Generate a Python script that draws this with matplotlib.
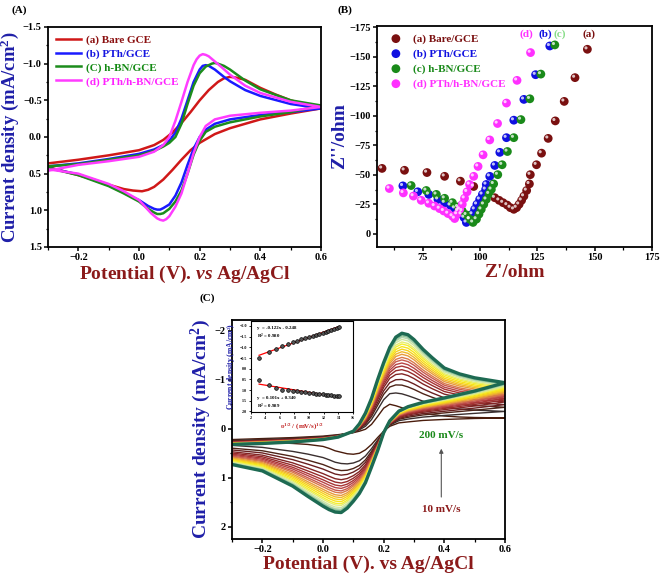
import matplotlib.pyplot as plt
import numpy as np
from matplotlib.transforms import offset_copy
from matplotlib.ticker import AutoMinorLocator

plt.rcParams['font.family'] = 'Liberation Serif'
plt.rcParams['font.weight'] = 'bold'
plt.rcParams['axes.labelweight'] = 'bold'
plt.rcParams['mathtext.fontset'] = 'custom'
plt.rcParams['mathtext.rm'] = 'Liberation Serif:bold'
plt.rcParams['mathtext.bf'] = 'Liberation Serif:bold'
plt.rcParams['mathtext.it'] = 'Liberation Serif:italic:bold'
plt.rcParams['axes.linewidth'] = 1.3

# ---------------- (A) CV of the electrodes ----------------
a_labels = ['(a) Bare GCE', '(b) PTh/GCE', '(C) h-BN/GCE', '(d) PTh/h-BN/GCE']
a_colors = ['#d01818', '#1a1aff', '#1c8c1c', '#ff3cff']
a_text_colors = ['#8b1010', '#1515e0', '#138a13', '#ff22ff']

# forward (upper) and reverse (lower) branches, potential in V, current in mA/cm2
a_v_fwd = [
    [-0.3, -0.2, -0.1, 0.0, 0.05, 0.08, 0.11, 0.14, 0.17, 0.2, 0.23, 0.26, 0.28, 0.3, 0.32, 0.35,
     0.4, 0.45, 0.5, 0.55, 0.6],
    [-0.3, -0.2, -0.1, 0.0, 0.05, 0.08, 0.1, 0.12, 0.14, 0.16, 0.18, 0.2, 0.21, 0.22, 0.23, 0.25,
     0.28, 0.3, 0.35, 0.4, 0.5, 0.6],
    [-0.3, -0.2, -0.1, 0.0, 0.05, 0.08, 0.1, 0.12, 0.14, 0.16, 0.18, 0.2, 0.22, 0.24, 0.25, 0.26,
     0.28, 0.3, 0.32, 0.35, 0.4, 0.5, 0.6],
    [-0.3, -0.2, -0.1, 0.0, 0.05, 0.08, 0.1, 0.12, 0.14, 0.16, 0.18, 0.19, 0.2, 0.21, 0.22, 0.23,
     0.25, 0.27, 0.3, 0.35, 0.4, 0.5, 0.6],
]
a_j_fwd = [
    [0.36, 0.31, 0.25, 0.18, 0.11, 0.04, -0.06, -0.19, -0.34, -0.50, -0.64, -0.75, -0.80, -0.82,
     -0.81, -0.78, -0.67, -0.58, -0.50, -0.44, -0.39],
    [0.40, 0.36, 0.30, 0.23, 0.17, 0.11, 0.05, -0.06, -0.25, -0.50, -0.75, -0.92, -0.97, -0.98,
     -0.97, -0.92, -0.82, -0.76, -0.64, -0.56, -0.45, -0.39],
    [0.40, 0.37, 0.31, 0.25, 0.19, 0.13, 0.08, 0.00, -0.18, -0.45, -0.70, -0.87, -0.96, -1.00,
     -1.01, -1.00, -0.97, -0.92, -0.86, -0.77, -0.65, -0.50, -0.43],
    [0.46, 0.38, 0.33, 0.27, 0.20, 0.11, 0.00, -0.22, -0.48, -0.75, -0.98, -1.06, -1.11, -1.13,
     -1.12, -1.10, -1.03, -0.96, -0.85, -0.70, -0.60, -0.48, -0.41],
]
a_v_rev = [
    [0.6, 0.5, 0.4, 0.3, 0.25, 0.2, 0.17, 0.14, 0.11, 0.08, 0.05, 0.03, 0.01, -0.02, -0.05, -0.1,
     -0.15, -0.2, -0.3],
    [0.6, 0.5, 0.4, 0.3, 0.25, 0.22, 0.2, 0.18, 0.16, 0.14, 0.12, 0.1, 0.08, 0.07, 0.06, 0.05, 0.03,
     0.0, -0.05, -0.1, -0.2, -0.3],
    [0.6, 0.5, 0.4, 0.3, 0.25, 0.22, 0.2, 0.18, 0.16, 0.14, 0.12, 0.1, 0.08, 0.07, 0.06, 0.05, 0.03,
     0.0, -0.05, -0.1, -0.2, -0.3],
    [0.6, 0.5, 0.4, 0.3, 0.25, 0.22, 0.2, 0.18, 0.16, 0.14, 0.12, 0.1, 0.09, 0.08, 0.07, 0.06, 0.04,
     0.02, 0.0, -0.05, -0.1, -0.2, -0.3],
]
a_j_rev = [
    [-0.39, -0.32, -0.24, -0.12, -0.04, 0.08, 0.18, 0.31, 0.45, 0.58, 0.68, 0.72, 0.74, 0.73, 0.71,
     0.65, 0.58, 0.52, 0.41],
    [-0.39, -0.34, -0.30, -0.24, -0.18, -0.10, 0.00, 0.16, 0.38, 0.62, 0.80, 0.92, 0.97, 0.99, 0.99,
     0.98, 0.94, 0.86, 0.76, 0.66, 0.51, 0.42],
    [-0.43, -0.34, -0.28, -0.20, -0.14, -0.07, 0.05, 0.24, 0.50, 0.73, 0.88, 0.98, 1.04, 1.05, 1.05,
     1.03, 0.98, 0.88, 0.77, 0.67, 0.52, 0.42],
    [-0.41, -0.36, -0.33, -0.29, -0.24, -0.15, 0.00, 0.22, 0.50, 0.77, 0.95, 1.08, 1.12, 1.14, 1.13,
     1.11, 1.04, 0.95, 0.86, 0.74, 0.64, 0.50, 0.44],
]

# ---------------- (B) Nyquist plots ----------------
b_labels = ['(a) Bare/GCE', '(b) PTh/GCE', '(c) h-BN/GCE', '(d) PTh/h-BN/GCE']
b_colors = ['#7a1010', '#1010e0', '#1a8a1a', '#ff30ff']
b_zre = [
    [57.2, 67.0, 76.8, 84.5, 91.4, 97.2, 106.4, 108.3, 110.0, 111.8, 113.2, 114.7, 115.9, 117.0,
     118.1, 119.1, 120.3, 121.5, 121.9, 124.6, 126.8, 129.7, 132.8, 136.7, 141.4, 146.8],
    [66.3, 72.8, 77.6, 81.6, 84.5, 87.0, 88.9, 90.3, 91.8, 93.0, 94.0, 95.4, 96.6, 97.6, 98.6,
     99.8, 101.0, 102.4, 102.7, 104.2, 106.4, 108.6, 111.5, 114.7, 119.1, 124.2, 130.4],
    [69.9, 76.5, 80.9, 84.5, 87.9, 90.3, 92.2, 94.0, 95.4, 96.9, 98.4, 99.5, 100.5, 101.6, 102.7,
     103.9, 104.9, 105.9, 107.7, 109.6, 111.9, 114.7, 117.8, 121.7, 126.5, 132.6],
    [60.4, 66.5, 70.9, 74.3, 77.6, 80.1, 82.3, 84.1, 86.0, 87.9, 88.9, 89.9, 91.1, 92.2, 93.2,
     94.3, 95.4, 97.2, 99.1, 101.3, 104.2, 107.6, 111.5, 116.1, 122.0],
]
b_zim = [
    [-55.5, -53.9, -52.0, -48.8, -44.7, -40.2, -30.7, -28.5, -26.5, -24.5, -22.3, -20.9, -22.3, -25.1,
     -28.5, -32.0, -36.8, -42.4, -50.2, -58.6, -68.4, -80.9, -95.7, -112.2, -132.3, -156.3],
    [-40.7, -35.7, -33.5, -29.3, -26.5, -24.3, -21.8, -19.5, -16.8, -13.9, -9.8, -12.6, -16.8, -20.9, -25.1,
     -29.3, -33.5, -37.7, -41.9, -48.8, -58.0, -69.1, -81.5, -96.3, -113.9, -134.8, -159.1],
    [-41.0, -36.8, -33.5, -30.2, -26.5, -22.9, -19.5, -16.2, -12.6, -9.8, -12.6, -16.8, -20.9, -25.1, -29.3,
     -34.0, -37.7, -42.4, -50.2, -58.6, -69.8, -81.5, -96.8, -114.4, -135.3, -160.0],
    [-38.5, -34.8, -32.1, -28.5, -26.0, -23.7, -21.5, -19.5, -17.3, -15.1, -13.1, -16.8, -20.9, -25.1, -30.2,
     -35.7, -41.9, -48.8, -57.2, -67.0, -79.6, -93.5, -110.8, -130.0, -153.5],
]
b_tags = ['(d)', '(b)', '(c)', '(a)']
b_tag_x = [120.3, 128.3, 134.8, 147.7]
b_tag_colors = ['#ff30ff', '#1010e0', '#88dd88', '#7a1010']

# ---------------- (C) CV at scan rates 10-200 mV/s ----------------
c_rates = [10, 20, 30, 40, 50, 60, 70, 80, 90, 100, 110, 120, 130, 140, 150, 160, 170, 180, 190, 200]
c_ipa = [-0.50, -0.77, -0.94, -1.05, -1.16, -1.24, -1.31, -1.37, -1.43, -1.48,
         -1.54, -1.59, -1.64, -1.69, -1.74, -1.78, -1.83, -1.87, -1.91, -1.95]
c_ipc = [0.52, 0.75, 0.90, 0.98, 1.01, 1.04, 1.06, 1.09, 1.11, 1.13,
         1.15, 1.17, 1.18, 1.20, 1.22, 1.23, 1.25, 1.26, 1.28, 1.29]
c_v_fwd = [-0.3, -0.2, -0.1, 0.0, 0.05, 0.1, 0.12, 0.14, 0.16, 0.18, 0.2, 0.22, 0.24, 0.26, 0.28,
           0.3, 0.33, 0.36, 0.4, 0.45, 0.5, 0.6]
c_v_rev = [0.6, 0.5, 0.4, 0.33, 0.28, 0.25, 0.22, 0.2, 0.18, 0.16, 0.14, 0.12, 0.1, 0.08, 0.06,
           0.04, 0.02, 0.0, -0.05, -0.1, -0.2, -0.3]
# 10 mV/s (innermost) and 200 mV/s (outermost) voltammograms
c_j_fwd_10 = [0.22, 0.20, 0.18, 0.15, 0.12, 0.08, 0.05, 0.01, -0.09, -0.25, -0.42, -0.50, -0.47,
              -0.43, -0.39, -0.36, -0.32, -0.29, -0.26, -0.24, -0.23, -0.22]
c_j_rev_10 = [-0.22, -0.21, -0.19, -0.17, -0.14, -0.12, -0.05, 0.05, 0.18, 0.32, 0.43, 0.50, 0.52,
              0.51, 0.48, 0.45, 0.40, 0.36, 0.32, 0.30, 0.27, 0.25]
c_j_fwd_200 = [0.32, 0.30, 0.27, 0.22, 0.17, 0.05, -0.10, -0.32, -0.62, -1.00, -1.35, -1.66, -1.87,
               -1.95, -1.92, -1.82, -1.62, -1.45, -1.24, -1.12, -1.04, -0.94]
c_j_rev_200 = [-0.94, -0.77, -0.63, -0.54, -0.45, -0.36, -0.16, 0.08, 0.45, 0.78, 1.10, 1.32, 1.48,
               1.62, 1.71, 1.70, 1.65, 1.58, 1.38, 1.17, 0.86, 0.73]
c_colors = ['#4a1c0c', '#3a2f2f', '#4e2418', '#6a2020', '#822424', '#962a2a', '#a83434', '#b84444',
            '#c85a50', '#d8784a', '#e89a3c', '#f0b82c', '#f6d21e', '#f8e41a', '#f4ee30', '#e6ee70',
            '#cfe6a0', '#b4d8a8', '#8ec29c', '#1d6a52']

navy = '#1f1fa8'
dred = '#8b1a1a'


def style_ax(ax, fs=7.5):
    ax.tick_params(which='major', direction='out', length=3, width=1.1, labelsize=fs, pad=1.5)
    ax.tick_params(which='minor', direction='out', length=1.8, width=0.9)
    ax.xaxis.set_minor_locator(AutoMinorLocator(2))
    ax.yaxis.set_minor_locator(AutoMinorLocator(2))


fig = plt.figure(figsize=(6.61, 5.77), dpi=100)

# ---- A ----
ax1 = fig.add_axes([48/661, 1-247/577, 273/661, 220/577])
for i in range(4):
    ax1.plot(a_v_fwd[i] + a_v_rev[i], a_j_fwd[i] + a_j_rev[i], color=a_colors[i], lw=1.8,
             label=a_labels[i])
ax1.set_xlim(-0.3, 0.6)
ax1.set_ylim(1.5, -1.5)
ax1.set_xticks([-0.2, 0.0, 0.2, 0.4, 0.6])
ax1.set_yticks([-1.5, -1.0, -0.5, 0.0, 0.5, 1.0, 1.5])
style_ax(ax1)
ax1.set_xlabel(r'Potential (V). $\mathit{vs}$ Ag/AgCl', fontsize=14, color=dred, labelpad=1)
ax1.set_ylabel(r'Current density (mA/cm$^2$)', fontsize=13.5, color=navy, labelpad=1)
ax1.legend(loc='upper left', frameon=False, fontsize=8, labelcolor=a_text_colors,
           handlelength=2.3, labelspacing=0.35, borderaxespad=0.3, handletextpad=0.4)
fig.text(12/661, 1-10/577, '(A)', fontsize=8, va='center')

# ---- B ----
ax2 = fig.add_axes([377/661, 1-247/577, 275/661, 221/577])
for i in range(4):
    ax2.scatter(b_zre[i], b_zim[i], s=40, color=b_colors[i], edgecolors='none', label=b_labels[i],
                zorder=3)
    hl = offset_copy(ax2.transData, fig=fig, x=-1.0, y=1.0, units='points')
    ax2.scatter(b_zre[i], b_zim[i], s=5, color='white', alpha=0.75, edgecolors='none',
                transform=hl, zorder=4)
for t, x, c in zip(b_tags, b_tag_x, b_tag_colors):
    ax2.text(x, -168.8, t, color=c, fontsize=8, ha='center', va='center')
ax2.set_xlim(55, 175)
ax2.set_ylim(11, -176)
ax2.set_xticks([75, 100, 125, 150, 175])
ax2.set_yticks([0, -25, -50, -75, -100, -125, -150, -175])
style_ax(ax2)
ax2.set_xlabel("Z'/ohm", fontsize=14, color=dred, labelpad=1)
ax2.set_ylabel("Z''/ohm", fontsize=14, color=navy, labelpad=1)
ax2.legend(loc='upper left', frameon=False, fontsize=8, labelcolor=b_colors, markerscale=1.0,
           handletextpad=0.5, labelspacing=0.45, borderaxespad=0.3)
fig.text(338/661, 1-10/577, '(B)', fontsize=8, va='center')

# ---- C ----
ax3 = fig.add_axes([232/661, 1-539/577, 273/661, 219/577])
jf_in, jf_out = np.array(c_j_fwd_10), np.array(c_j_fwd_200)
jr_in, jr_out = np.array(c_j_rev_10), np.array(c_j_rev_200)
for i in range(len(c_rates)):
    # each voltammogram placed between the 10 and 200 mV/s traces by its anodic peak
    w = (c_ipa[i] - c_ipa[0]) / (c_ipa[-1] - c_ipa[0])
    jf = jf_in + w * (jf_out - jf_in)
    jr = jr_in + w * (jr_out - jr_in)
    lw = 2.4 if i == len(c_rates) - 1 else (1.8 if i == len(c_rates) - 2 else 1.0)
    ax3.plot(c_v_fwd + c_v_rev, np.r_[jf, jr], color=c_colors[i], lw=lw)
ax3.set_xlim(-0.3, 0.6)
ax3.set_ylim(2.25, -2.22)
ax3.set_xticks([-0.2, 0.0, 0.2, 0.4, 0.6])
ax3.set_yticks([-2, -1, 0, 1, 2])
style_ax(ax3)
ax3.set_xlabel('Potential (V). vs Ag/AgCl', fontsize=14, color=dred, labelpad=1)
ax3.set_ylabel(r'Current density (mA/cm$^2$)', fontsize=14, color=navy, labelpad=1)
ax3.annotate('', xy=(0.39, 0.35), xytext=(0.39, 1.45),
             arrowprops=dict(arrowstyle='-|>', color='#555555', lw=0.8, mutation_scale=6))
ax3.text(0.39, 0.13, '200 mV/s', color='#1a8a1a', fontsize=8, ha='center', va='center')
ax3.text(0.39, 1.65, '10 mV/s', color=dred, fontsize=8, ha='center', va='center')
fig.text(200/661, 1-298/577, '(C)', fontsize=8, va='center')

# inset: peak currents vs square root of scan rate
axi = fig.add_axes([250.6/661, 1-412.3/577, 102.4/661, 91/577])
sq = np.sqrt(c_rates)
for ys in (c_ipa, c_ipc):
    k, b = np.polyfit(sq, ys, 1)
    axi.plot([sq[0], sq[-1]], [k*sq[0] + b, k*sq[-1] + b], color='red', lw=0.9)
    axi.scatter(sq, ys, s=7, facecolor='#555555', edgecolors='black', linewidths=0.5, zorder=3)
axi.set_xlim(2, 16)
axi.set_ylim(2.04, -2.22)
axi.set_xticks([2, 4, 6, 8, 10, 12, 14, 16])
axi.set_yticks([-2.0, -1.5, -1.0, -0.5, 0.0, 0.5, 1.0, 1.5, 2.0])
axi.tick_params(labelsize=3, length=1.5, width=0.6, pad=1)
for s in axi.spines.values():
    s.set_linewidth(0.8)
axi.set_xlabel(r'$\upsilon^{1/2}$ / (mV/s)$^{1/2}$', fontsize=5, color='#c02020', labelpad=1)
axi.set_ylabel(r'Current density (mA/cm$^2$)', fontsize=5.5, color=navy, labelpad=1)
axi.text(0.06, 0.93, 'y  = -0.122x - 0.248', transform=axi.transAxes, fontsize=3.5, va='center')
axi.text(0.06, 0.83, r'R$^2$ = 0.980', transform=axi.transAxes, fontsize=3.5, va='center')
axi.text(0.06, 0.16, 'y  = 0.101x + 0.340', transform=axi.transAxes, fontsize=3.5, va='center')
axi.text(0.06, 0.06, r'R$^2$ = 0.989', transform=axi.transAxes, fontsize=3.5, va='center')

plt.savefig('out.png', dpi=100)
